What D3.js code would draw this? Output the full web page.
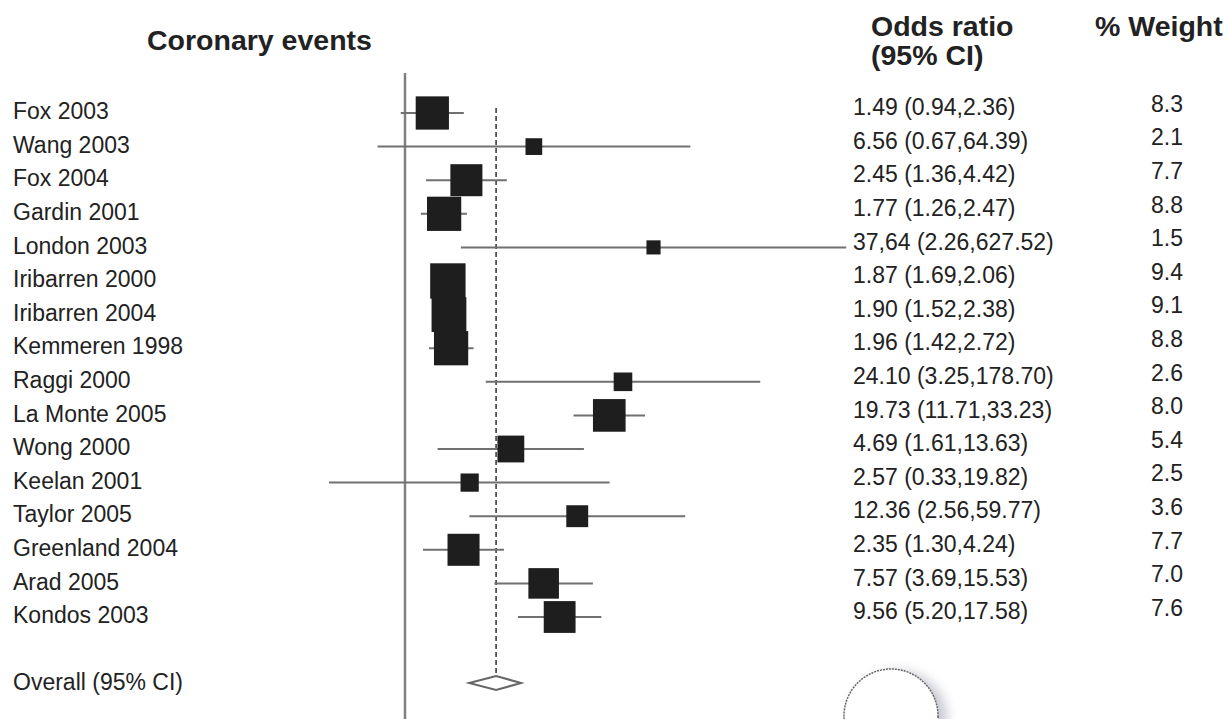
<!DOCTYPE html>
<html>
<script src="https://d3js.org/d3.v7.min.js"></script>
<head>
<title>Coronary events - forest plot</title>
</head>
<style>
body {margin:0; background:white;}
text {font-family: "Liberation Sans", Arial, Helvetica, sans-serif; fill:#222;}
.head {font-weight:bold; font-size:28.5px;}
.lab {font-size:23px;}
</style>
<body>
<svg width="1230" height="719"></svg>
<script>
var studies = ["Fox 2003", "Wang 2003", "Fox 2004", "Gardin 2001", "London 2003", "Iribarren 2000",
  "Iribarren 2004", "Kemmeren 1998", "Raggi 2000", "La Monte 2005", "Wong 2000", "Keelan 2001",
  "Taylor 2005", "Greenland 2004", "Arad 2005", "Kondos 2003"];
var oddsRatio = [1.49, 6.56, 2.45, 1.77, 37.64, 1.87, 1.90, 1.96, 24.10, 19.73, 4.69, 2.57, 12.36, 2.35, 7.57, 9.56];
var ciLow = [0.94, 0.67, 1.36, 1.26, 2.26, 1.69, 1.52, 1.42, 3.25, 11.71, 1.61, 0.33, 2.56, 1.30, 3.69, 5.20];
var ciHigh = [2.36, 64.39, 4.42, 2.47, 627.52, 2.06, 2.38, 2.72, 178.70, 33.23, 13.63, 19.82, 59.77, 4.24, 15.53, 17.58];
var weights = [8.3, 2.1, 7.7, 8.8, 1.5, 9.4, 9.1, 8.8, 2.6, 8.0, 5.4, 2.5, 3.6, 7.7, 7.0, 7.6];
var orLabels = ["1.49 (0.94,2.36)", "6.56 (0.67,64.39)", "2.45 (1.36,4.42)", "1.77 (1.26,2.47)",
  "37,64 (2.26,627.52)", "1.87 (1.69,2.06)", "1.90 (1.52,2.38)", "1.96 (1.42,2.72)",
  "24.10 (3.25,178.70)", "19.73 (11.71,33.23)", "4.69 (1.61,13.63)", "2.57 (0.33,19.82)",
  "12.36 (2.56,59.77)", "2.35 (1.30,4.24)", "7.57 (3.69,15.53)", "9.56 (5.20,17.58)"];
var weightLabels = ["8.3", "2.1", "7.7", "8.8", "1.5", "9.4", "9.1", "8.8", "2.6", "8.0", "5.4", "2.5", "3.6", "7.7", "7.0", "7.6"];
var overallLabel = "Overall (95% CI)";
var overallOR = [3.78, 2.55, 5.44];   // estimate, low, high

var data = studies.map(function(s, i) {
  return {study: s, or: oddsRatio[i], lo: ciLow[i], hi: ciHigh[i], w: weights[i],
          orText: orLabels[i], wText: weightLabels[i]};
});

var svg = d3.select("svg");
// log scale, about 68.5 px per natural-log unit, OR=1 at x=405
var x = d3.scaleLog().domain([0.1, 1000]).range([405 - 68.5 * Math.log(10), 405 + 68.5 * Math.log(1000)]);
var y = d3.scalePoint().domain(studies).range([113, 617]);
var yOverall = 683;
var size = d3.scaleSqrt().domain([0, 10]).range([0, 36.5]);

// reference line at OR = 1
svg.append("line")
  .attr("x1", x(1)).attr("x2", x(1))
  .attr("y1", 73).attr("y2", 719)
  .attr("stroke", "#808080").attr("stroke-width", 2.5);

// dashed line at overall estimate
svg.append("line")
  .attr("x1", x(overallOR[0])).attr("x2", x(overallOR[0]))
  .attr("y1", 108).attr("y2", yOverall)
  .attr("stroke", "#333").attr("stroke-width", 1.5)
  .attr("stroke-dasharray", "5,3");

// confidence intervals
svg.append("g").selectAll("line")
  .data(data).enter().append("line")
  .attr("x1", function(d) { return x(d.lo); })
  .attr("x2", function(d) { return x(d.hi); })
  .attr("y1", function(d) { return y(d.study); })
  .attr("y2", function(d) { return y(d.study); })
  .attr("stroke", "#707070").attr("stroke-width", 2);

// weighted squares
svg.append("g").selectAll("rect")
  .data(data).enter().append("rect")
  .attr("x", function(d) { return x(d.or) - size(d.w) / 2; })
  .attr("y", function(d) { return y(d.study) - size(d.w) / 2; })
  .attr("width", function(d) { return size(d.w); })
  .attr("height", function(d) { return size(d.w); })
  .attr("fill", "#1e1e1e");

// overall diamond
var dh = 7;
svg.append("path")
  .attr("d", "M" + x(overallOR[1]) + "," + yOverall +
             "L" + x(overallOR[0]) + "," + (yOverall - dh) +
             "L" + x(overallOR[2]) + "," + yOverall +
             "L" + x(overallOR[0]) + "," + (yOverall + dh) + "Z")
  .attr("fill", "white").attr("stroke", "#666").attr("stroke-width", 2);

// study labels
svg.append("g").selectAll("text")
  .data(studies).enter().append("text")
  .attr("class", "lab")
  .attr("x", 13)
  .attr("y", function(d) { return y(d) - 2; })
  .attr("dy", "0.36em")
  .text(function(d) { return d; });
svg.append("text").attr("class", "lab")
  .attr("x", 13).attr("y", yOverall - 1).attr("dy", "0.36em")
  .text(overallLabel);

// odds ratio column
svg.append("g").selectAll("text")
  .data(data).enter().append("text")
  .attr("class", "lab")
  .attr("x", 853)
  .attr("y", function(d) { return y(d.study) - 6; })
  .attr("dy", "0.36em")
  .text(function(d) { return d.orText; });

// weight column
svg.append("g").selectAll("text")
  .data(data).enter().append("text")
  .attr("class", "lab")
  .attr("x", 1167)
  .attr("text-anchor", "middle")
  .attr("y", function(d) { return y(d.study) - 9.5; })
  .attr("dy", "0.36em")
  .text(function(d) { return d.wText; });

// headers
svg.append("text").attr("class", "head").attr("x", 147).attr("y", 50).text("Coronary events");
svg.append("text").attr("class", "head").attr("x", 871).attr("y", 36).text("Odds ratio");
svg.append("text").attr("class", "head").attr("x", 871).attr("y", 65).text("(95% CI)");
svg.append("text").attr("class", "head").attr("x", 1095).attr("y", 36).text("% Weight");

// stray magnifier mark in the corner of the scan
var defs = svg.append("defs");
defs.append("filter").attr("id", "blur").append("feGaussianBlur").attr("stdDeviation", 6);
svg.append("circle").attr("cx", 899).attr("cy", 719).attr("r", 48)
  .attr("fill", "#9a9cae").attr("opacity", 0.55).attr("filter", "url(#blur)");
svg.append("circle").attr("cx", 891).attr("cy", 716).attr("r", 47)
  .attr("fill", "white").attr("stroke", "#666").attr("stroke-width", 1.5)
  .attr("stroke-dasharray", "2,1");
</script>
</body>
</html>
